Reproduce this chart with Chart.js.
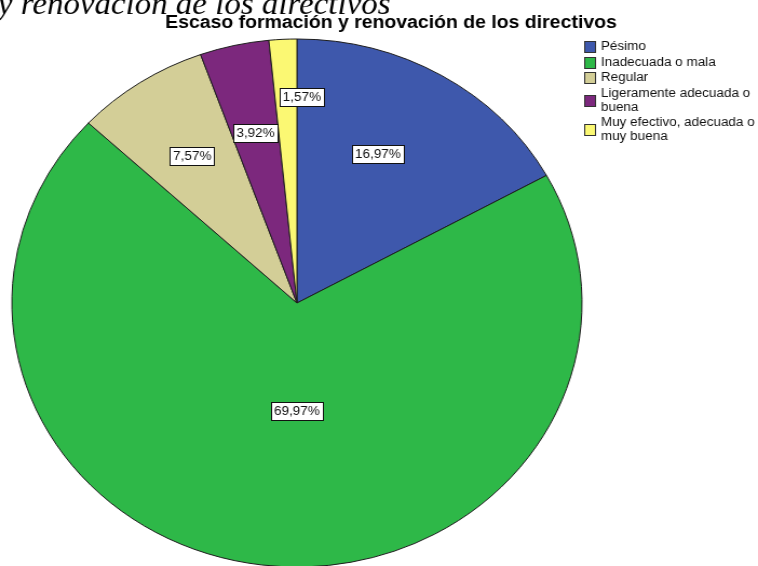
<!DOCTYPE html>
<html>
<head>
<meta charset="utf-8">
<script src="https://cdn.jsdelivr.net/npm/chart.js@4/dist/chart.umd.min.js"></script>
<style>
  html, body { margin: 0; padding: 0; background: #ffffff; overflow: hidden; }
</style>
</head>
<body>
<canvas id="c" width="702" height="566" style="display:block;width:758px;height:566px;"></canvas>
<script>
// ---- data ----
const headingText = 'y renovación de los directivos';
const chartTitle = 'Escaso formación y renovación de los directivos';
const categories = [
  'Pésimo',
  'Inadecuada o mala',
  'Regular',
  'Ligeramente adecuada o buena',
  'Muy efectivo, adecuada o muy buena'
];
const percentages = [16.97, 69.97, 7.57, 3.92, 1.57];
const sliceColors = ['#3E58AC', '#2EB848', '#D3CE97', '#7C287D', '#FBF873'];

// ---- label placement (style, not data) ----
const labelRadial = [0.632, 0.41, 0.667, 0.66, 0.78];
const labelAngleShiftDeg = [-3.85, -7, 0, 0, 4.1];

function fmtPct(v) { return v.toFixed(2).replace('.', ',') + '%'; }

function wrapText(ctx, text, maxW) {
  const words = text.split(' ');
  const lines = [];
  let cur = '';
  for (const w of words) {
    const t = cur ? cur + ' ' + w : w;
    if (ctx.measureText(t).width > maxW && cur) { lines.push(cur); cur = w; }
    else cur = t;
  }
  if (cur) lines.push(cur);
  return lines;
}

const bgPlugin = {
  id: 'bg',
  beforeDraw(chart) {
    const ctx = chart.ctx;
    ctx.save();
    ctx.fillStyle = '#ffffff';
    ctx.fillRect(0, 0, chart.width, chart.height);
    ctx.restore();
  }
};

const decorPlugin = {
  id: 'decor',
  afterDraw(chart) {
    const ctx = chart.ctx;
    ctx.save();
    // cropped heading
    ctx.fillStyle = '#000';
    ctx.font = 'italic 30.5px "Liberation Serif", "Times New Roman", serif';
    ctx.textBaseline = 'alphabetic';
    ctx.textAlign = 'left';
    ctx.fillText(headingText, -2, 14);

    // title
    ctx.font = 'bold 18px "Liberation Sans", Arial, sans-serif';
    ctx.fillText(chartTitle, 153, 28);

    // percentage labels
    const meta = chart.getDatasetMeta(0);
    ctx.font = '12.5px "Liberation Sans", Arial, sans-serif';
    ctx.textAlign = 'center';
    ctx.textBaseline = 'middle';
    meta.data.forEach((arc, i) => {
      const mid = (arc.startAngle + arc.endAngle) / 2 + labelAngleShiftDeg[i] * Math.PI / 180;
      const r = arc.outerRadius * labelRadial[i];
      const x = arc.x + Math.cos(mid) * r;
      const y = arc.y + Math.sin(mid) * r;
      const txt = fmtPct(chart.data.datasets[0].data[i]);
      const w = ctx.measureText(txt).width + 6;
      const h = 18;
      ctx.fillStyle = '#ffffff';
      ctx.fillRect(Math.round(x - w / 2) + 0.5, Math.round(y - h / 2) + 0.5, Math.round(w), h);
      ctx.strokeStyle = '#111';
      ctx.lineWidth = 1;
      ctx.strokeRect(Math.round(x - w / 2) + 0.5, Math.round(y - h / 2) + 0.5, Math.round(w), h);
      ctx.fillStyle = '#111';
      ctx.fillText(txt, x, y + 0.5);
    });

    // legend
    ctx.font = '12.5px "Liberation Sans", Arial, sans-serif';
    ctx.textAlign = 'left';
    ctx.textBaseline = 'middle';
    const sx = 541.5, tx = 556.5, lineH = 14, gap = 1.6, maxW = 146;
    let y = 46.5;
    chart.data.labels.forEach((lab, i) => {
      const lines = wrapText(ctx, lab, maxW);
      const centerY = y + (lines.length - 1) * lineH / 2;
      ctx.fillStyle = chart.data.datasets[0].backgroundColor[i];
      ctx.fillRect(sx, Math.round(centerY - 5.5) + 0.5, 10, 11);
      ctx.strokeStyle = '#333';
      ctx.lineWidth = 1;
      ctx.strokeRect(sx, Math.round(centerY - 5.5) + 0.5, 10, 11);
      ctx.fillStyle = '#111';
      lines.forEach((ln, k) => ctx.fillText(ln, tx, y + k * lineH));
      y += lines.length * lineH + gap;
    });
    ctx.restore();
  }
};

new Chart(document.getElementById('c'), {
  type: 'pie',
  data: {
    labels: categories,
    datasets: [{
      data: percentages,
      backgroundColor: sliceColors,
      borderColor: '#1e1e1e',
      borderWidth: 1,
      hoverOffset: 0,
      radius: 264
    }]
  },
  options: {
    responsive: false,
    animation: false,
    devicePixelRatio: 1,
    layout: { padding: { left: 0, right: 152, top: 40, bottom: 0 } },
    plugins: {
      legend: { display: false },
      title: { display: false },
      tooltip: { enabled: false }
    }
  },
  plugins: [bgPlugin, decorPlugin]
});
</script>
</body>
</html>
